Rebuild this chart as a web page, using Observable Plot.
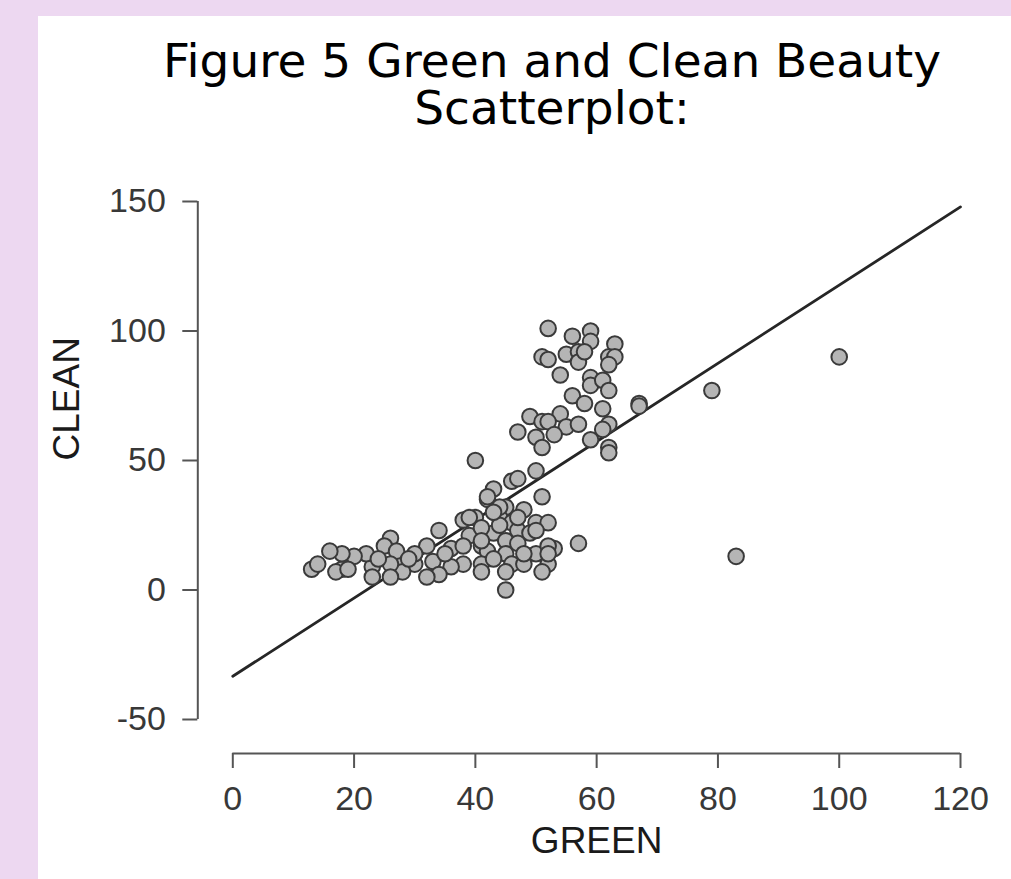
<!DOCTYPE html>
<html>
<head>
<meta charset="utf-8">
<script src="https://cdn.jsdelivr.net/npm/d3@7"></script>
<script src="https://cdn.jsdelivr.net/npm/@observablehq/plot@0.6"></script>
<style>
  html, body { margin: 0; padding: 0; }
  body { width: 1011px; height: 879px; background: #EDD8F1; position: relative; overflow: hidden; }
  #panel { position: absolute; left: 38px; top: 16px; right: 0; bottom: 0; background: #ffffff; }
  #title { position: absolute; left: 94px; width: 916px; top: 37px; text-align: center;
           font-family: "DejaVu Sans", Verdana, sans-serif; font-size: 47px; color: #000; }
  #title div { height: 47px; line-height: 47px; white-space: nowrap; }
  #chart { position: absolute; left: 38px; top: 140px; }
</style>
</head>
<body>
<div id="panel"></div>
<div id="title"><div>Figure 5 Green and Clean Beauty</div><div>Scatterplot:</div></div>
<div id="chart"></div>
<script>
// Data (GREEN, CLEAN pairs)
const green = [52,56,59,59,63,51,52,55,57,57,58,62,63,62,54,59,59,61,62,56,58,61,67,67,49,54,51,52,55,57,47,50,53,51,62,61,59,62,62,50,46,47,43,51,
  79,100,83,57,
  40,42,40,38,45,48,44,46,50,52,43,39,34,47,49,45,47,41,36,32,42,45,50,53,52,38,41,43,46,48,52,51,45,45,36,33,34,32,30,28,28,26,25,27,26,26,23,22,23,20,18,18,16,17,19,13,14,35,30,38,41,41,41,48,52,50,39,44,42,29,24,44,47,43];
const clean = [101,98,100,96,95,90,89,91,92,88,92,90,90,87,83,82,79,81,77,75,72,70,72,71,67,68,65,65,63,64,61,59,60,55,64,62,58,55,53,46,42,43,39,36,
  77,90,13,18,
  50,35,28,27,32,31,28,26,26,26,22,21,23,23,22,19,18,17,16,17,15,14,14,16,17,10,10,12,10,10,10,7,7,0,9,11,6,5,10,10,7,20,17,15,10,5,9,14,5,13,8,14,15,7,8,8,10,14,14,17,24,19,7,14,14,23,28,32,36,12,12,25,28,30];

// Regression line coefficients
const regIntercept = -33.3;
const regSlope = 1.51;

const xTicks = [0, 20, 40, 60, 80, 100, 120];
const yTicks = [-50, 0, 50, 100, 150];
const xDomain = [0, 120];
const yDomain = [-50, 150];

const points = green.map((g, i) => ({GREEN: g, CLEAN: clean[i]}));
const regLine = xDomain.map(x => ({GREEN: x, CLEAN: regIntercept + regSlope * x}));

const axisColor = "#555555";
const labelFont = "Liberation Sans, Arial, sans-serif";

const plot = Plot.plot({
  width: 973,
  height: 739,
  marginLeft: 194.3,
  marginRight: 51,
  marginTop: 61,
  marginBottom: 160,
  style: {background: "transparent", fontFamily: labelFont, overflow: "visible"},
  x: {domain: xDomain},
  y: {domain: yDomain},
  marks: [
    // detached axis lines
    Plot.ruleX([xDomain[0]], {y1: yDomain[0], y2: yDomain[1], dx: -35, stroke: axisColor, strokeWidth: 2}),
    Plot.ruleY([yDomain[0]], {x1: xDomain[0], x2: xDomain[1], dy: 34, stroke: axisColor, strokeWidth: 2}),
    Plot.axisY(yTicks, {anchor: "left", dx: -35, tickSize: 15, tickPadding: 17, stroke: axisColor, strokeWidth: 2,
      fontSize: 34, fill: "#383838", tickFormat: d => `${d}`, label: null}),
    Plot.axisX(xTicks, {anchor: "bottom", dy: 34, tickSize: 15, tickPadding: 17, stroke: axisColor, strokeWidth: 2,
      fontSize: 34, fill: "#383838", tickFormat: d => `${d}`, label: null}),
    // axis titles
    Plot.text(["CLEAN"], {frameAnchor: "left", dx: -165.3, rotate: -90, fontSize: 37, fill: "#1a1a1a", text: d => d}),
    Plot.text(["GREEN"], {frameAnchor: "bottom", dy: 122, lineAnchor: "middle", fontSize: 37, fill: "#1a1a1a", text: d => d}),
    // regression line
    Plot.line(regLine, {x: "GREEN", y: "CLEAN", stroke: "#262626", strokeWidth: 2.8}),
    // points
    Plot.dot(points, {x: "GREEN", y: "CLEAN", r: 7.8, fill: "#b5b5b5", stroke: "#3a3a3a", strokeWidth: 2})
  ]
});
document.getElementById("chart").appendChild(plot);
</script>
</body>
</html>
